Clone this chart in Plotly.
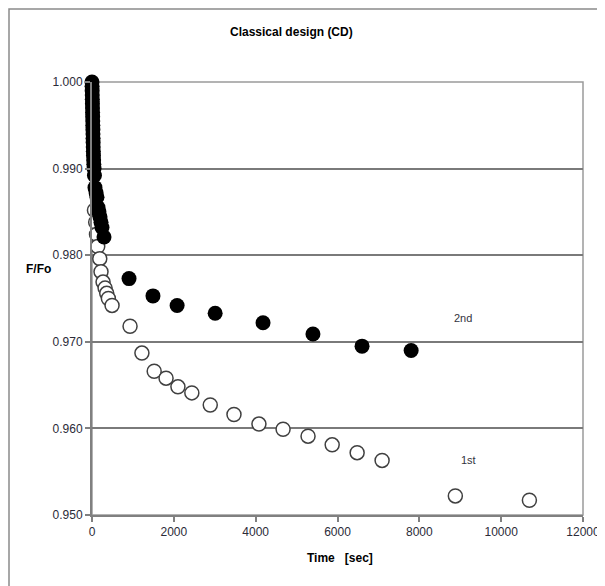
import plotly.graph_objects as go

# 1st run (open circles)
t_first = [60, 90, 110, 140, 190, 220, 270, 320, 360, 400, 490,
           930, 1220, 1520, 1810, 2100, 2440, 2890, 3470, 4080, 4670,
           5280, 5870, 6480, 7090, 8880, 10690]
f_first = [0.9852, 0.9838, 0.9824, 0.9810, 0.9796, 0.9781, 0.9769, 0.9762, 0.9756, 0.9750, 0.9742,
           0.9718, 0.9687, 0.9666, 0.9658, 0.9648, 0.9641, 0.9627, 0.9616, 0.9605, 0.9599,
           0.9591, 0.9581, 0.9572, 0.9563, 0.9522, 0.9517]

# 2nd run (filled circles)
t_second = [0, 2, 4, 6, 8, 10, 12, 14, 16, 18, 20, 22, 24, 26, 28, 30, 33, 36, 40, 45, 50, 60,
            73, 100, 122, 147, 170, 196, 220, 244, 293,
            905, 1490, 2080, 3010, 4180, 5400, 6600, 7800]
f_second = [1.0000, 0.9995, 0.9990, 0.9985, 0.9980, 0.9975, 0.9970, 0.9965, 0.9960, 0.9955, 0.9950,
            0.9945, 0.9940, 0.9935, 0.9930, 0.9925, 0.9920, 0.9915, 0.9910, 0.9905, 0.9900, 0.9892,
            0.9878, 0.9872, 0.9867, 0.9855, 0.9850, 0.9844, 0.9838, 0.9832, 0.9821,
            0.9773, 0.9753, 0.9742, 0.9733, 0.9722, 0.9709, 0.9695, 0.9690]

x_ticks = [0, 2000, 4000, 6000, 8000, 10000, 12000]
y_ticks = [0.950, 0.960, 0.970, 0.980, 0.990, 1.000]

FONT = "Liberation Sans, Arial, sans-serif"

OFF = 8  # default page body margin
FW, FH = 605 - OFF, 586 - OFF
L, R, T, B = 92 - OFF, 583 - OFF, 82 - OFF, 515 - OFF
W, H = R - L, B - T


def px(x):
    return (x - OFF - L) / W


def py(y):
    return (B - (y - OFF)) / H


fig = go.Figure()
fig.add_trace(go.Scatter(
    x=t_first, y=f_first, mode="markers", name="1st",
    marker=dict(size=14, color="white", line=dict(color="#404040", width=1.5)),
    cliponaxis=False,
))
fig.add_trace(go.Scatter(
    x=t_second, y=f_second, mode="markers", name="2nd",
    marker=dict(size=15, color="black", line=dict(color="black", width=0)),
    cliponaxis=False,
))

fig.update_layout(
    width=FW, height=FH,
    margin=dict(l=L, r=FW - R, t=T, b=FH - B, autoexpand=False),
    paper_bgcolor="white", plot_bgcolor="white",
    showlegend=False,
    font=dict(family=FONT, size=12, color="#333333"),
    xaxis=dict(
        range=[0, 12000], tickvals=x_ticks, ticktext=[str(v) for v in x_ticks],
        automargin=False,
        showgrid=False, zeroline=False,
        showline=True, linecolor="#808080", linewidth=2,
        ticks="outside", ticklen=5, tickcolor="#808080", tickwidth=1.5,
        tickfont=dict(family=FONT, size=12, color="#2b2b38"),
    ),
    yaxis=dict(
        range=[0.950, 1.000], tickvals=y_ticks, ticktext=[f"{v:.3f}" for v in y_ticks],
        automargin=False,
        showgrid=True, gridcolor="#7a7a7a", gridwidth=1.5, zeroline=False,
        showline=True, linecolor="#808080", linewidth=2,
        ticks="outside", ticklen=5, tickcolor="#808080", tickwidth=1.5,
        tickfont=dict(family=FONT, size=12, color="#2b2b38"),
    ),
    annotations=[
        dict(text="<b>Classical design (CD)</b>", xref="paper", yref="paper",
             x=px(291), y=py(32), xanchor="center", yanchor="middle", showarrow=False,
             font=dict(family=FONT, size=12, color="black")),
        dict(text="<b>F/Fo</b>", xref="paper", yref="paper",
             x=px(38), y=py(269), xanchor="center", yanchor="middle", showarrow=False,
             font=dict(family=FONT, size=12, color="black")),
        dict(text="<b>Time   [sec]</b>", xref="paper", yref="paper",
             x=px(340), y=py(558), xanchor="center", yanchor="middle", showarrow=False,
             font=dict(family=FONT, size=12, color="black")),
        dict(text="2nd", x=9070, y=0.9727, showarrow=False, yanchor="middle",
             font=dict(family=FONT, size=11, color="#333340")),
        dict(text="1st", x=9200, y=0.9563, showarrow=False, yanchor="middle",
             font=dict(family=FONT, size=11, color="#333340")),
    ],
    shapes=[
        dict(type="rect", xref="paper", yref="paper", x0=0, x1=1, y0=0, y1=1,
             line=dict(color="#9a9a9a", width=1.5), layer="below"),
        dict(type="rect", xref="paper", yref="paper",
             x0=px(9), x1=px(600), y0=py(600), y1=py(9),
             line=dict(color="#8a8a8a", width=1.5), layer="below"),
    ],
)

fig.write_html("out.html")
